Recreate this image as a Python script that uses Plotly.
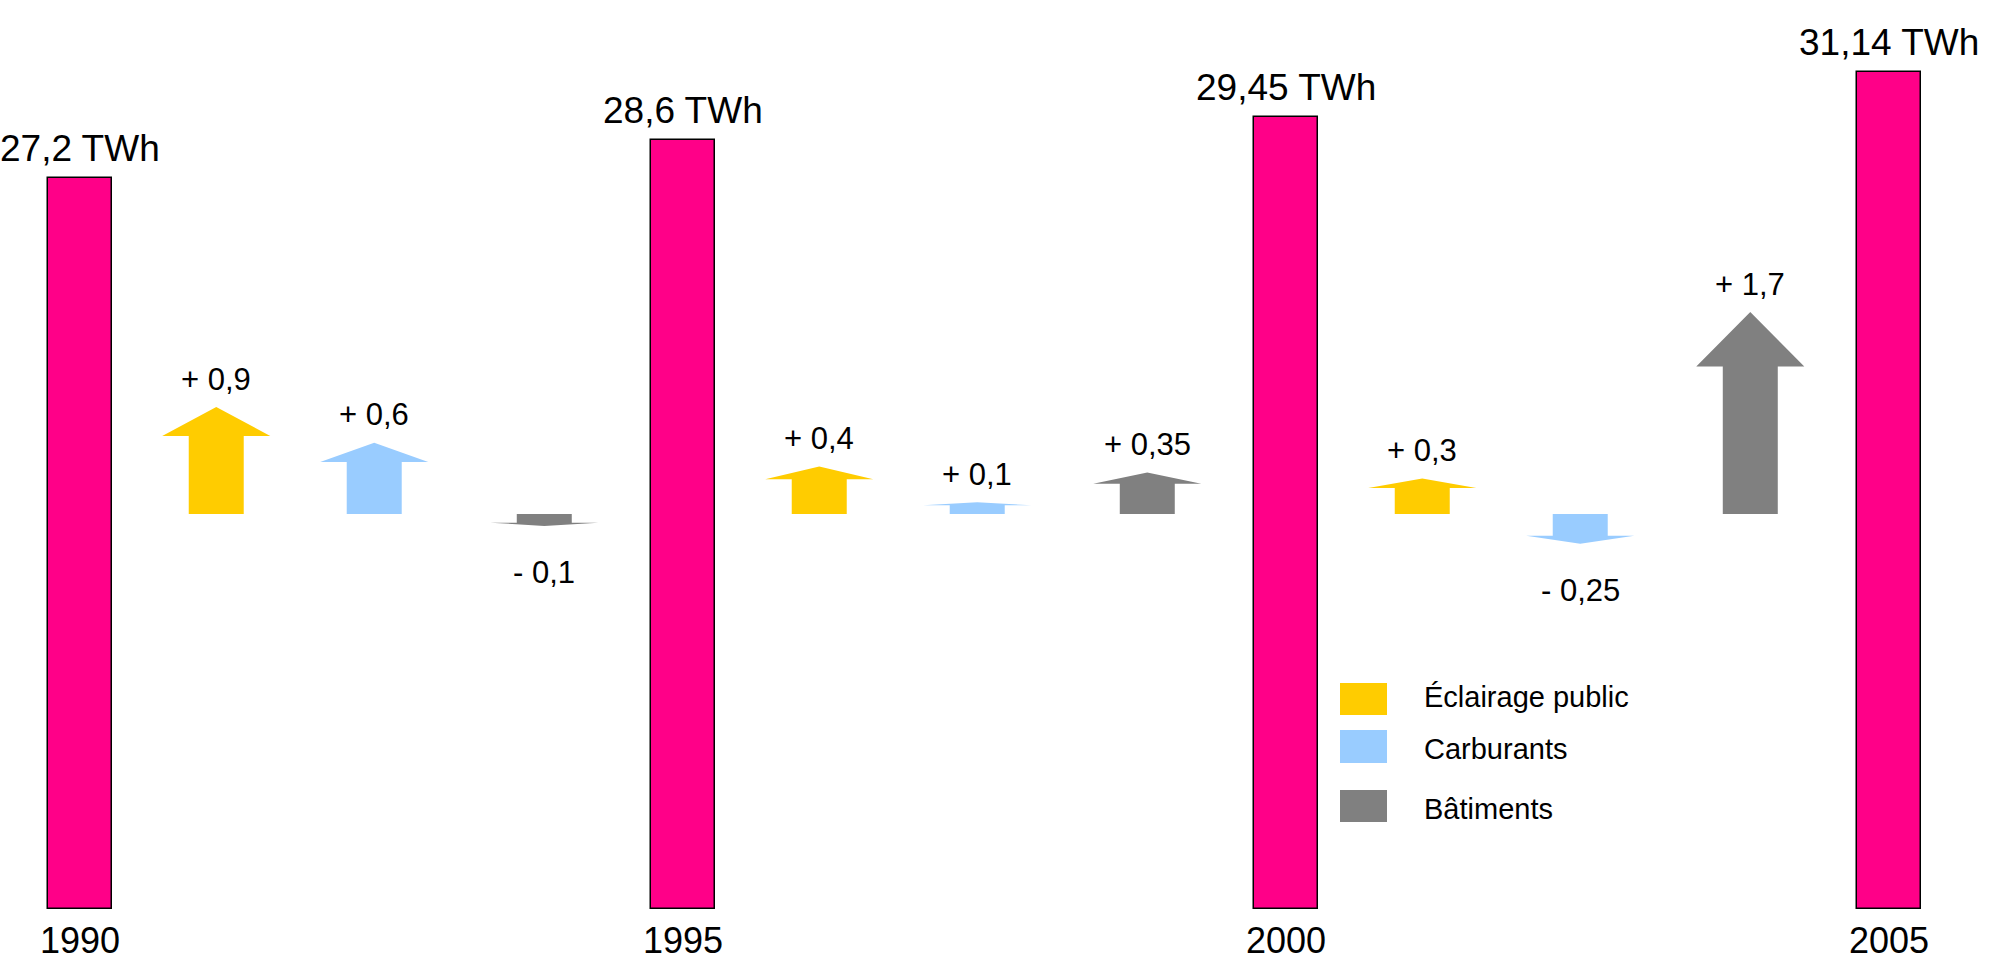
import plotly.graph_objects as go

# Consommation totale par année (TWh)
years = [1990, 1995, 2000, 2005]
totals = [27.2, 28.6, 29.45, 31.14]

# Variations par poste entre deux années (TWh)
categories = ["Éclairage public", "Carburants", "Bâtiments"]
delta_eclairage = [0.9, 0.4, 0.3]
delta_carburants = [0.6, 0.1, -0.25]
delta_batiments = [-0.1, 0.35, 1.7]

colors = {"Éclairage public": "#FFCC00", "Carburants": "#99CCFF", "Bâtiments": "#808080"}
BAR_COLOR = "#FF0088"
FONT = "Arial, Liberation Sans, sans-serif"

W, H = 1991, 960
PLOT_H = 909  # hauteur de la zone de tracé (marge basse 51 px)

# positions des flèches dans chaque intervalle (années après le début de la période)
slot_offsets = [1.13, 2.44, 3.85]
SHAFT_HALF = 0.228   # demi-largeur du corps de la flèche (années)
HEAD_HALF = 0.448    # demi-largeur de la pointe (années)
HEAD_FRAC = 0.27     # part de la longueur occupée par la pointe


def fmt_delta(v):
    s = f"{abs(v):g}".replace(".", ",")
    return ("+ " if v >= 0 else "- ") + s


def arrow_path(xc, v):
    yb = v * (1 - HEAD_FRAC)
    xs = [xc - SHAFT_HALF, xc - SHAFT_HALF, xc - HEAD_HALF, xc,
          xc + HEAD_HALF, xc + SHAFT_HALF, xc + SHAFT_HALF, xc - SHAFT_HALF]
    ys = [0, yb, yb, v, yb, yb, 0, 0]
    return xs, ys


fig = go.Figure()

fig.add_trace(go.Bar(
    x=years, y=totals, width=0.53,
    marker=dict(color=BAR_COLOR, line=dict(color="#000000", width=1.5)),
    showlegend=False, hoverinfo="skip",
))

series = {
    "Éclairage public": delta_eclairage,
    "Carburants": delta_carburants,
    "Bâtiments": delta_batiments,
}

annotations = []
for slot, cat in enumerate(categories):
    xs_all, ys_all = [], []
    for period, v in enumerate(series[cat]):
        xc = years[period] + slot_offsets[slot]
        xs, ys = arrow_path(xc, v)
        xs_all += xs + [None]
        ys_all += ys + [None]
        annotations.append(dict(
            x=xc, y=v, xref="x", yref="y2", text=fmt_delta(v),
            showarrow=False, yanchor="middle",
            yshift=28 if v >= 0 else -47,
            font=dict(family=FONT, size=31, color="#000000"),
        ))
    fig.add_trace(go.Scatter(
        x=xs_all, y=ys_all, yaxis="y2", mode="lines", fill="toself",
        fillcolor=colors[cat], line=dict(width=0, color=colors[cat]),
        showlegend=False, hoverinfo="skip",
    ))

# étiquettes des totaux et des années
for yr, tot in zip(years, totals):
    annotations.append(dict(
        x=yr, y=tot, xref="x", yref="y",
        text=f"{tot:g}".replace(".", ",") + " TWh",
        showarrow=False, yanchor="bottom", yshift=7,
        font=dict(family=FONT, size=37, color="#000000"),
    ))
    annotations.append(dict(
        x=yr, y=0, xref="x", yref="y", text=str(yr),
        showarrow=False, yanchor="middle", yshift=-31,
        font=dict(family=FONT, size=36, color="#000000"),
    ))

# légende
legend_rows = [(683, 715, 697), (730, 763, 749), (790, 822, 809)]
shapes = []
for cat, (top, bot, mid) in zip(categories, legend_rows):
    shapes.append(dict(
        type="rect", xref="paper", yref="paper",
        x0=1340 / W, x1=1387 / W,
        y0=(PLOT_H - bot) / PLOT_H, y1=(PLOT_H - top) / PLOT_H,
        fillcolor=colors[cat], line=dict(width=0),
    ))
    annotations.append(dict(
        x=1422 / W, y=(PLOT_H - mid) / PLOT_H, xref="paper", yref="paper",
        text=cat, showarrow=False, xanchor="left", yanchor="middle",
        font=dict(family=FONT, size=29, color="#000000"),
    ))

fig.update_layout(
    width=W, height=H,
    margin=dict(l=0, r=0, t=0, b=H - PLOT_H, pad=0),
    paper_bgcolor="#FFFFFF", plot_bgcolor="#FFFFFF",
    xaxis=dict(range=[1989.337, 2005.846], visible=False, fixedrange=True),
    yaxis=dict(range=[0, 33.82], visible=False, fixedrange=True),
    yaxis2=dict(range=[-3.325, 4.327], overlaying="y", visible=False, fixedrange=True),
    annotations=annotations, shapes=shapes,
    showlegend=False, bargap=0,
)

fig.write_html("out.html")
